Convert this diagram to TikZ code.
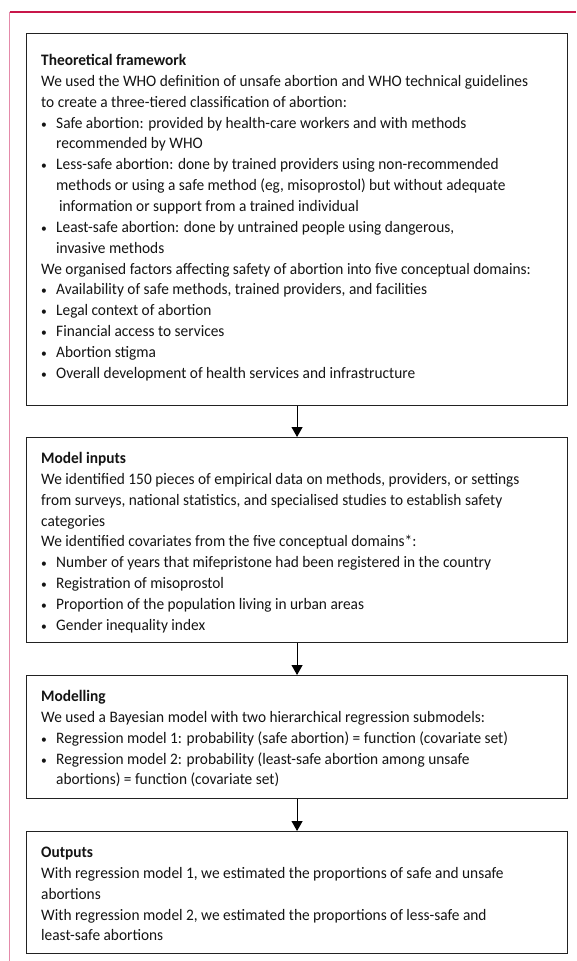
\documentclass[tikz,border=0pt]{standalone}
\usepackage{fontspec}
\setmainfont[FakeStretch=0.96]{Carlito}
\usetikzlibrary{arrows.meta}
\definecolor{crim}{HTML}{C8174A}
\definecolor{pinkline}{HTML}{E48AAA}
\definecolor{boxline}{HTML}{222222}
\newcommand{\bl}{\makebox[15pt][l]{{\fontsize{12}{12}\selectfont\textbullet}}}
\newcommand{\ind}{\hspace*{15pt}}
\newcommand{\boxtext}[1]{\vtop{\hsize=545pt\parindent=0pt\parskip=0pt\baselineskip=20.85pt\fontsize{16}{20.85}\selectfont\raggedright #1}}
\tikzset{
  stage/.style={draw=boxline, line width=1.1pt, rectangle, inner sep=0pt, anchor=north west},
  txt/.style={anchor=base west, inner sep=0pt, text=black!92},
  flow/.style={draw=black, line width=1pt, -{Triangle[length=10pt,width=11pt]}}
}
\begin{document}
\begin{tikzpicture}[x=1pt,y=-1pt]
\useasboundingbox (0,0) rectangle (576,961);
\coordinate (tl) at (9.5,12);
\coordinate (tr) at (576,12);
\coordinate (bl) at (9.5,961);
\draw[crim, line width=1.3pt] (tl) -- (tr);
\draw[pinkline, line width=1.6pt] (tl) -- (bl);

\node[stage, minimum width=541pt, minimum height=372pt] (b1) at (26,33) {};
\node[stage, minimum width=541pt, minimum height=205pt] (b2) at (26,437) {};
\node[stage, minimum width=541pt, minimum height=123pt] (b3) at (26,675) {};
\node[stage, minimum width=541pt, minimum height=122pt] (b4) at (26,831) {};

\draw[flow] (b1.south) -- (b2.north);
\draw[flow] (b2.south) -- (b3.north);
\draw[flow] (b3.south) -- (b4.north);

\node[txt] (t1) at (41,65.5) {\boxtext{%
\textbf{Theoretical framework}\par
We used the WHO definition of unsafe abortion and WHO technical guidelines\par
to create a three-tiered classification of abortion:\par
\bl Safe abortion: provided by health-care workers and with methods\par
\ind recommended by WHO\par
\bl Less-safe abortion: done by trained providers using non-recommended\par
\ind methods or using a safe method (eg, misoprostol) but without adequate\par
\ind\hspace*{3pt}information or support from a trained individual\par
\bl Least-safe abortion: done by untrained people using dangerous,\par
\ind invasive methods\par
We organised factors affecting safety of abortion into five conceptual domains:\par
\bl Availability of safe methods, trained providers, and facilities\par
\bl Legal context of abortion\par
\bl Financial access to services\par
\bl Abortion stigma\par
\bl Overall development of health services and infrastructure}};

\node[txt] (t2) at (41,463.5) {\boxtext{%
\textbf{Model inputs}\par
We identified 150 pieces of empirical data on methods, providers, or settings\par
from surveys, national statistics, and specialised studies to establish safety\par
categories\par
We identified covariates from the five conceptual domains*:\par
\bl Number of years that mifepristone had been registered in the country\par
\bl Registration of misoprostol\par
\bl Proportion of the population living in urban areas\par
\bl Gender inequality index}};

\node[txt] (t3) at (41,701.5) {\boxtext{%
\textbf{Modelling}\par
We used a Bayesian model with two hierarchical regression submodels:\par
\bl Regression model 1: probability (safe abortion) = function (covariate set)\par
\bl Regression model 2: probability (least-safe abortion among unsafe\par
\ind abortions) = function (covariate set)}};

\node[txt] (t4) at (41,857.5) {\boxtext{%
\textbf{Outputs}\par
With regression model 1, we estimated the proportions of safe and unsafe\par
abortions\par
With regression model 2, we estimated the proportions of less-safe and\par
least-safe abortions}};
\end{tikzpicture}
\end{document}
